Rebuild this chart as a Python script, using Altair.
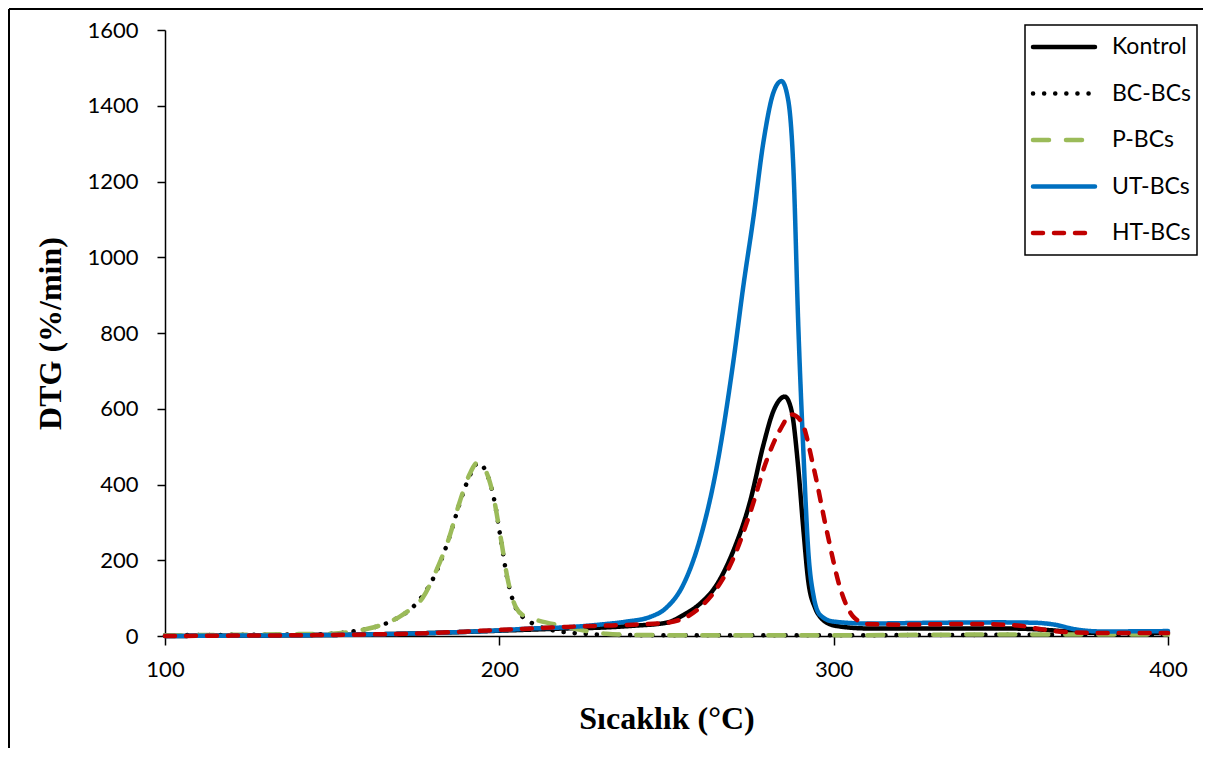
import altair as alt
import pandas as pd

series_names = ["Kontrol", "BC-BCs", "P-BCs", "UT-BCs", "HT-BCs"]
series_colors = ["#000000", "#000000", "#9BBB59", "#0070C0", "#C00000"]
series_dash = [[1, 0], [0.1, 11], [16, 17], [1, 0], [10, 11]]
series_width = [4.5, 4.5, 4.5, 5.5, 4.5]

kontrol_t = [100, 120, 140, 160, 180, 200, 210, 220, 230, 240, 250, 255, 260, 265, 270, 275, 279, 282, 285.4,
             287.4, 289.4, 291, 292.4, 294.4, 296, 298, 302, 310, 330, 350, 360, 370, 380, 400]
kontrol_v = [0, 1, 2, 4, 8, 14, 17, 20, 22, 27, 35, 55, 85, 135, 225, 355, 505, 595, 632,
             595, 445, 275, 145, 75, 50, 35, 25, 20, 20, 20, 18, 12, 8, 8]

bc_t = [100, 120, 140, 150, 155.3, 160, 165.8, 170, 173.6, 176.1, 181.4, 185.1, 188.2, 191, 193.7, 196, 198.1,
        200.5, 202.2, 205.2, 207.9, 212, 218, 225, 235, 250, 300, 350, 400]
bc_v = [2, 3, 4, 6, 11, 18, 32, 50, 72, 95, 174, 262, 352, 420, 457, 434, 375,
        252, 160, 69, 45, 25, 12, 6, 3, 2, 2, 3, 3]

p_t = [100, 120, 140, 150, 155, 160, 165, 170, 174, 177, 181, 185, 188, 191, 193.5, 196, 198, 200.5, 202.5,
       205, 208, 212, 218, 225, 232, 240, 260, 300, 350, 400]
p_v = [2, 3, 5, 6, 10, 18, 30, 50, 75, 100, 170, 260, 350, 425, 458, 435, 378, 255, 150,
       75, 50, 40, 28, 15, 6, 3, 2, 2, 4, 4]

ut_t = [100, 120, 140, 160, 180, 200, 210, 220, 230, 238, 245, 250, 255, 260, 265, 270, 273, 276, 279, 282,
        284.4, 286.4, 288, 289.4, 291, 292.4, 294, 296, 300, 310, 330, 350, 360, 366, 372, 380, 400]
ut_v = [0, 1, 2, 4, 8, 15, 20, 23, 30, 38, 50, 75, 135, 255, 445, 725, 925, 1105, 1305, 1435,
        1465, 1415, 1225, 825, 475, 225, 105, 55, 38, 33, 35, 36, 35, 30, 18, 12, 13]

ht_t = [100, 120, 140, 160, 180, 200, 210, 220, 230, 240, 250, 260, 265, 270, 275, 280, 284, 287.4, 290.4,
        294, 298, 302, 306, 310, 320, 340, 355, 362, 370, 380, 400]
ht_v = [0, 1, 2, 4, 8, 16, 20, 24, 27, 30, 35, 75, 125, 205, 325, 465, 545, 585, 565,
        445, 275, 125, 50, 32, 30, 32, 28, 18, 10, 8, 8]

x_ticks = [100, 200, 300, 400]
y_ticks = [0, 200, 400, 600, 800, 1000, 1200, 1400, 1600]

rows = []
for order, (name, ts, vs) in enumerate(zip(series_names,
                                           [kontrol_t, bc_t, p_t, ut_t, ht_t],
                                           [kontrol_v, bc_v, p_v, ut_v, ht_v])):
    for t, v in zip(ts, vs):
        rows.append({"seri": name, "T": t, "DTG": v, "o": order})
df = pd.DataFrame(rows)

W, H = 1003, 606
PAD_L, PAD_T = 157, 22
TOTAL_W, TOTAL_H = 1195, 740

# legend layout (pixels relative to the plot area)
LEG_X0, LEG_X1, LEG_Y0, LEG_Y1 = 860, 1032, -5, 225
LEG_ROW0, LEG_STEP = 17, 46.5
SYM_X0, SYM_X1, LAB_X = 868, 930, 947

leg_rows = []
for i, name in enumerate(series_names):
    yy = LEG_ROW0 + i * LEG_STEP
    leg_rows.append({"seri": name, "px": SYM_X0, "py": yy, "o": i})
    leg_rows.append({"seri": name, "px": SYM_X1, "py": yy, "o": i})
leg_df = pd.DataFrame(leg_rows)
leg_lab = leg_df[leg_df["px"] == SYM_X0].assign(px=LAB_X)
box_df = pd.DataFrame([{"x0": LEG_X0, "x1": LEG_X1, "y0": LEG_Y0, "y1": LEG_Y1}])

color_scale = alt.Scale(domain=series_names, range=series_colors)
dash_scale = alt.Scale(domain=series_names, range=series_dash)
width_scale = alt.Scale(domain=series_names, range=series_width)
px_scale = alt.Scale(domain=[0, W], range=[0, W], nice=False, zero=False)
py_scale = alt.Scale(domain=[0, H], range=[0, H], nice=False, zero=False)

lines = alt.Chart(df).mark_line(strokeCap="round", strokeJoin="round",
                                interpolate="monotone").encode(
    x=alt.X("T:Q", scale=alt.Scale(domain=[100, 400], nice=False),
            axis=alt.Axis(values=x_ticks, title="Sıcaklık (°C)", grid=False, tickSize=9, format="d",
                          labelPadding=14, titlePadding=23, labelFlush=False)),
    y=alt.Y("DTG:Q", scale=alt.Scale(domain=[0, 1600], nice=False),
            axis=alt.Axis(values=y_ticks, title="DTG (%/min)", grid=False, tickSize=8, format="d",
                          labelPadding=19, titlePadding=19)),
    color=alt.Color("seri:N", scale=color_scale, legend=None),
    strokeDash=alt.StrokeDash("seri:N", scale=dash_scale, legend=None),
    strokeWidth=alt.StrokeWidth("seri:N", scale=width_scale, legend=None),
    order=alt.Order("o:Q"),
    detail="seri:N",
)

leg_box = alt.Chart(box_df).mark_rect(fill="white", stroke="black", strokeWidth=1.5).encode(
    x=alt.X("x0:Q", scale=px_scale, axis=None), x2="x1:Q",
    y=alt.Y("y0:Q", scale=py_scale, axis=None), y2="y1:Q",
)
leg_lines = alt.Chart(leg_df).mark_line(strokeCap="round").encode(
    x=alt.X("px:Q", scale=px_scale, axis=None),
    y=alt.Y("py:Q", scale=py_scale, axis=None),
    color=alt.Color("seri:N", scale=color_scale, legend=None),
    strokeDash=alt.StrokeDash("seri:N", scale=dash_scale, legend=None),
    strokeWidth=alt.StrokeWidth("seri:N", scale=width_scale, legend=None),
    detail="seri:N",
)
leg_text = alt.Chart(leg_lab).mark_text(align="left", baseline="middle", font="Lato", fontSize=23,
                                        color="black").encode(
    x=alt.X("px:Q", scale=px_scale, axis=None),
    y=alt.Y("py:Q", scale=py_scale, axis=None),
    text="seri:N",
)
legend_layer = alt.layer(leg_box, leg_lines, leg_text)

left_border = alt.Chart(df).mark_rule(color="black", strokeWidth=2).encode(
    x=alt.value(-PAD_L + 1), y=alt.value(-PAD_T + 1), y2=alt.value(TOTAL_H - PAD_T))
top_border = alt.Chart(df).mark_rule(color="black", strokeWidth=2).encode(
    y=alt.value(-PAD_T + 1), x=alt.value(-PAD_L + 1), x2=alt.value(TOTAL_W - PAD_L))

chart = alt.layer(lines, legend_layer, left_border, top_border).resolve_scale(
    x="independent", y="independent"
).properties(
    width=W, height=H,
    background="white",
    autosize=alt.AutoSizeParams(type="none"),
    padding={"left": PAD_L, "top": PAD_T, "right": TOTAL_W - PAD_L - W, "bottom": TOTAL_H - PAD_T - H},
).configure_view(stroke=None).configure_axis(
    domainColor="black", tickColor="black", domainWidth=1.5, tickWidth=1.5,
    labelFont="Lato", labelFontSize=22, labelColor="black",
    titleFont="Liberation Serif", titleFontSize=32, titleFontWeight="bold", titleColor="black",
)

chart.save("out.html", embed_options={"renderer": "svg", "actions": False})
